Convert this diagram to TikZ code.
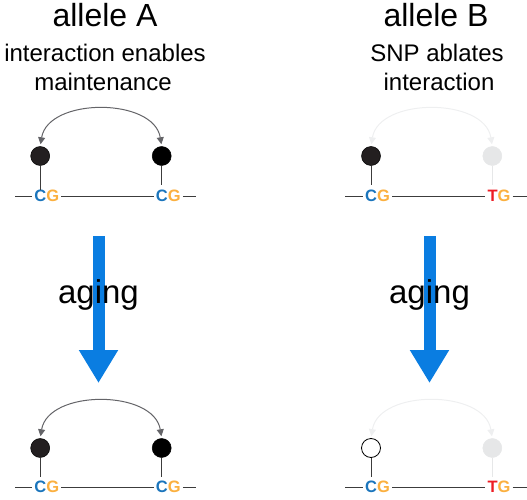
\documentclass[tikz,border=0pt]{standalone}
\usepackage{fontspec}
\setmainfont{Liberation Sans}
\usetikzlibrary{arrows.meta}
\definecolor{cblue}{RGB}{27,117,188}
\definecolor{corange}{RGB}{251,176,64}
\definecolor{cred}{RGB}{237,28,36}
\definecolor{cdark}{RGB}{35,31,32}
\definecolor{cgray}{RGB}{230,231,232}
\definecolor{carc}{RGB}{100,100,104}
\definecolor{carcfaint}{RGB}{238,239,240}
\definecolor{cbig}{RGB}{10,125,225}
\definecolor{cline}{RGB}{60,60,60}
\begin{document}
\begin{tikzpicture}[x=1pt,y=-1pt,
  title/.style={font=\fontsize{32}{36}\selectfont, anchor=base, inner sep=0},
  sub/.style={font=\fontsize{24}{28}\selectfont, anchor=base, inner sep=0},
  agingtxt/.style={font=\fontsize{33}{38}\selectfont, anchor=base, inner sep=0},
  base/.style={font=\fontsize{16.5}{18}\selectfont\bfseries, anchor=base west, inner xsep=2pt, inner ysep=0},
  mdark/.style={circle, minimum size=19pt, inner sep=0, draw=black, line width=0.5pt, fill=cdark},
  mblack/.style={circle, minimum size=19pt, inner sep=0, draw=black, line width=0.5pt, fill=black},
  mopen/.style={circle, minimum size=19pt, inner sep=0, draw=black, line width=0.8pt, fill=white},
  mgray/.style={circle, minimum size=19pt, inner sep=0, draw=cgray, line width=0.5pt, fill=cgray},
  strand/.style={draw=cline, line width=1pt},
  stem/.style={draw=cline, line width=1pt},
  stemfaint/.style={draw=cgray, line width=1pt},
  arcA/.style={draw=carc, line width=1pt, {Triangle[width=7pt,length=7pt]}-{Triangle[width=7pt,length=7pt]}, shorten <=2pt, shorten >=2pt},
  arcB/.style={draw=carcfaint, line width=1pt, {Triangle[width=7pt,length=7pt]}-{Triangle[width=7pt,length=7pt]}, shorten <=2pt, shorten >=2pt},
  bigarrow/.style={draw=cbig, line width=12pt, -{Triangle[width=37pt,length=33pt]}}
]
\useasboundingbox (0,0) rectangle (527,500);

% titles
\node[title] (tA) at (105,27) {allele A};
\node[sub] (sA1) at (105,62) {interaction enables};
\node[sub] (sA2) at (103,91) {maintenance};
\node[title] (tB) at (436,27) {allele B};
\node[sub] (sB1) at (437,62) {SNP ablates};
\node[sub] (sB2) at (439,91) {interaction};

% big arrows
\coordinate (aL0) at (98.5,236);
\coordinate (aL1) at (98.5,383);
\coordinate (aR0) at (429.5,236);
\coordinate (aR1) at (429.5,383);
\draw[bigarrow] (aL0) -- (aL1);
\draw[bigarrow] (aR0) -- (aR1);
\node[agingtxt] (gL) at (98.5,303) {aging};
\node[agingtxt] (gR) at (429.5,303) {aging};

% ---------- top left (allele A) ----------
\node[base] (bA1) at (32.2,201.5) {\textcolor{cblue}{C}\textcolor{corange}{G}};
\node[base] (bA2) at (153.7,201.5) {\textcolor{cblue}{C}\textcolor{corange}{G}};
\node[mdark] (mA1) at (40.2,156) {};
\node[mblack] (mA2) at (161.7,156) {};
\coordinate (lA0) at (15,196);
\coordinate (lA3) at (196,196);
\draw[strand] (lA0) -- (lA0 -| bA1.west);
\draw[strand] (lA0 -| bA1.east) -- (lA0 -| bA2.west);
\draw[strand] (lA0 -| bA2.east) -- (lA3);
\draw[stem] (mA1.south) -- (mA1.south |- bA1.north) -- ++(0,-5.5);
\draw[stem] (mA2.south) -- ++(0,19.5);
\draw[arcA] (mA1.north) .. controls +(8,-49) and +(-8,-49) .. (mA2.north);

% ---------- top right (allele B) ----------
\node[base] (bB1) at (363,201.5) {\textcolor{cblue}{C}\textcolor{corange}{G}};
\node[base] (bB2) at (485.3,201.5) {\textcolor{cred}{T}\textcolor{corange}{G}};
\node[mdark] (mB1) at (371,156) {};
\node[mgray] (mB2) at (492.3,156) {};
\coordinate (lB0) at (345,196);
\coordinate (lB3) at (527,196);
\draw[strand] (lB0) -- (lB0 -| bB1.west);
\draw[strand] (lB0 -| bB1.east) -- (lB0 -| bB2.west);
\draw[strand] (lB0 -| bB2.east) -- (lB3);
\draw[stem] (mB1.south) -- ++(0,19.5);
\draw[stemfaint] (mB2.south) -- ++(0,19.5);
\draw[arcB] (mB1.north) .. controls +(8,-49) and +(-8,-49) .. (mB2.north);

% ---------- bottom left (allele A) ----------
\node[base] (bC1) at (32.2,492.5) {\textcolor{cblue}{C}\textcolor{corange}{G}};
\node[base] (bC2) at (153.7,492.5) {\textcolor{cblue}{C}\textcolor{corange}{G}};
\node[mdark] (mC1) at (40.2,448) {};
\node[mblack] (mC2) at (161.7,448) {};
\coordinate (lC0) at (15,487);
\coordinate (lC3) at (196,487);
\draw[strand] (lC0) -- (lC0 -| bC1.west);
\draw[strand] (lC0 -| bC1.east) -- (lC0 -| bC2.west);
\draw[strand] (lC0 -| bC2.east) -- (lC3);
\draw[stem] (mC1.south) -- ++(0,19.5);
\draw[stem] (mC2.south) -- ++(0,19.5);
\draw[arcA] (mC1.north) .. controls +(8,-49) and +(-8,-49) .. (mC2.north);

% ---------- bottom right (allele B) ----------
\node[base] (bD1) at (363,492.5) {\textcolor{cblue}{C}\textcolor{corange}{G}};
\node[base] (bD2) at (485.3,492.5) {\textcolor{cred}{T}\textcolor{corange}{G}};
\node[mopen] (mD1) at (371,448) {};
\node[mgray] (mD2) at (492.3,448) {};
\coordinate (lD0) at (345,487);
\coordinate (lD3) at (527,487);
\draw[strand] (lD0) -- (lD0 -| bD1.west);
\draw[strand] (lD0 -| bD1.east) -- (lD0 -| bD2.west);
\draw[strand] (lD0 -| bD2.east) -- (lD3);
\draw[stem] (mD1.south) -- ++(0,19.5);
\draw[stemfaint] (mD2.south) -- ++(0,19.5);
\draw[arcB] (mD1.north) .. controls +(8,-49) and +(-8,-49) .. (mD2.north);
\end{tikzpicture}
\end{document}
